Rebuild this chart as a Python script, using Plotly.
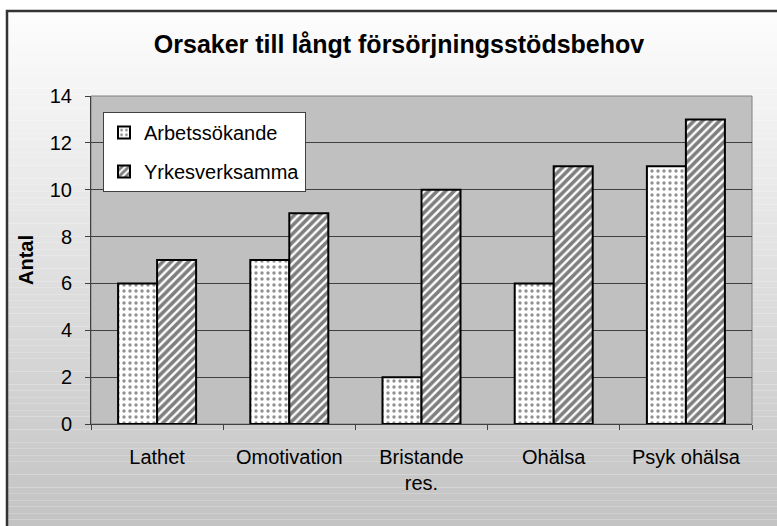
import plotly.graph_objects as go

categories = ["Lathet", "Omotivation", "Bristande<br>res.", "Ohälsa", "Psyk ohälsa"]
arbetssokande = [6, 7, 2, 6, 11]
yrkesverksamma = [7, 9, 10, 11, 13]
y_ticks = [0, 2, 4, 6, 8, 10, 12, 14]

W, H = 777, 526
L, R, T, B = 91, 25, 96, 102
pw, ph = W - L - R, H - T - B

def px2x(px):
    return (px - L) / pw

def py2y(py):
    return (H - B - py) / ph

FONT = "Liberation Sans, Arial, sans-serif"

fig = go.Figure()
fig.add_trace(go.Bar(
    name="Arbetssökande", x=categories, y=arbetssokande,
    legendgroup="a",
    marker=dict(color="white", line=dict(color="black", width=2),
                pattern=dict(shape=".", fgcolor="#222222", bgcolor="white",
                             size=6, solidity=0.25, fillmode="overlay")),
))
fig.add_trace(go.Bar(
    name="Yrkesverksamma", x=categories, y=yrkesverksamma,
    legendgroup="b",
    marker=dict(color="white", line=dict(color="black", width=2),
                pattern=dict(shape="/", fgcolor="black", bgcolor="white",
                             size=6, solidity=0.6, fillmode="overlay")),
))

# gradient background of the chart frame
shapes = []
n = 80
top_px, bot_px = 11, H
for i in range(n):
    y0p = top_px + (bot_px - top_px) * i / n
    y1p = top_px + (bot_px - top_px) * (i + 1) / n
    t = (i + 0.5) / n
    g = int(round(253 - (253 - 195) * t))
    shapes.append(dict(type="rect", xref="paper", yref="paper", layer="below",
                       x0=px2x(7), x1=px2x(W + 5), y0=py2y(y0p), y1=py2y(y1p),
                       fillcolor=f"rgb({g},{g},{g})", line=dict(width=0)))
# plot area background
shapes.append(dict(type="rect", xref="paper", yref="paper", layer="below",
                   x0=0, x1=1, y0=0, y1=1, fillcolor="#c0c0c0",
                   line=dict(color="#808080", width=1)))
# frame border
shapes.append(dict(type="rect", xref="paper", yref="paper", layer="above",
                   x0=px2x(7), x1=px2x(W + 10), y0=py2y(H + 10), y1=py2y(11),
                   fillcolor="rgba(0,0,0,0)", line=dict(color="#333333", width=2.5)))

fig.update_layout(
    width=W, height=H,
    margin=dict(l=L, r=R, t=T, b=B, autoexpand=False),
    paper_bgcolor="white",
    plot_bgcolor="rgba(0,0,0,0)",
    barmode="group", bargap=0.41, bargroupgap=0,
    font=dict(family=FONT, color="black", size=20),
    title=dict(text="<b>Orsaker till långt försörjningsstödsbehov</b>",
               x=399 / W, xref="container", xanchor="center",
               y=1 - 44 / H, yref="container", yanchor="middle",
               font=dict(size=25, family=FONT, color="black")),
    shapes=shapes,
    showlegend=True,
    legend=dict(x=px2x(103), y=py2y(112), xanchor="left", yanchor="top",
                bgcolor="white", bordercolor="#404040", borderwidth=1,
                font=dict(size=20, family=FONT), traceorder="grouped",
                tracegroupgap=10, itemwidth=30),
    annotations=[dict(text="<b>Antal</b>", textangle=-90, xref="paper", yref="paper",
                      x=px2x(26), y=py2y(260), showarrow=False,
                      xanchor="center", yanchor="middle",
                      font=dict(size=20, family=FONT, color="black"))],
)
fig.update_xaxes(
    showgrid=False, showline=True, linecolor="#404040", linewidth=1,
    ticks="outside", tickson="boundaries", ticklen=5, tickcolor="#404040",
    ticklabelstandoff=15, tickfont=dict(size=20, family=FONT),
    mirror=False,
)
fig.update_yaxes(
    range=[0, 14], tickvals=y_ticks, showgrid=True, gridcolor="#404040", gridwidth=1,
    showline=True, linecolor="#404040", linewidth=1,
    ticks="outside", ticklen=5, tickcolor="#404040",
    ticklabelstandoff=9, tickfont=dict(size=20, family=FONT), zeroline=False,
)

fig.write_html("out.html", config={"displayModeBar": False},
               post_script="document.body.style.margin='0';document.body.style.overflow='hidden';")
